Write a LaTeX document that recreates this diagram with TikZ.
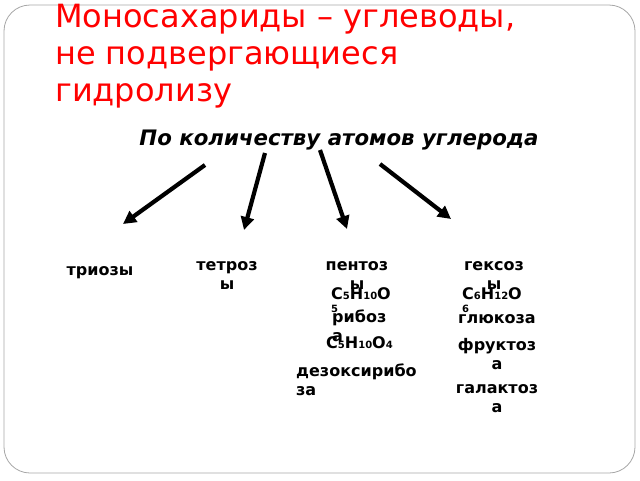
\documentclass[tikz,border=0pt]{standalone}
\usepackage{fontspec}
\setmainfont{DejaVu Sans}
\usetikzlibrary{arrows.meta}
\newcommand{\idx}[1]{\raisebox{-0.5pt}{\fontsize{10}{10}\selectfont #1}}
\begin{document}
\begin{tikzpicture}[x=1pt,y=-1pt,>={Triangle[length=13pt,width=13pt]},
  lbl/.style={inner sep=0pt,anchor=base,align=center,font=\bfseries\fontsize{16}{19}\selectfont},
  lbll/.style={inner sep=0pt,anchor=base west,align=left,font=\bfseries\fontsize{16}{19}\selectfont},
  frm/.style={inner sep=0pt,anchor=base west,align=left,font=\bfseries\fontsize{16}{13}\selectfont},
  arr/.style={->,line width=4.2pt}]
\useasboundingbox (0,0) rectangle (640,480);
\draw[gray!70,line width=0.8pt,rounded corners=26pt] (4,5) rectangle (635,473);
\node[inner sep=0pt,anchor=base west,align=left,red,font=\fontsize{32}{37}\selectfont] (title) at (55,101) {Моносахариды -- углеводы,\\не подвергающиеся\\гидролизу};
\node[inner sep=0pt,anchor=base,font=\bfseries\itshape\fontsize{21.3}{24}\selectfont] (sub) at (339,145) {По количеству атомов углерода};
\coordinate (s1) at (205,165);
\coordinate (e1) at (123,224);
\coordinate (s2) at (265,153);
\coordinate (e2) at (244,230);
\coordinate (s3) at (320,150);
\coordinate (e3) at (347,229);
\coordinate (s4) at (380,164);
\coordinate (e4) at (451,219);
\draw[arr] (s1) -- (e1);
\draw[arr] (s2) -- (e2);
\draw[arr] (s3) -- (e3);
\draw[arr] (s4) -- (e4);
\node[lbl] (trioz) at (100,275) {триозы};
\node[lbl] (tetroz) at (227,289) {тетроз\\ы};
\node[lbl] (pentoz) at (357,289) {пентоз\\ы};
\node[lbl] (geksoz) at (494,289) {гексоз\\ы};
\node[frm] (pentform) at (331,312) {C\idx{5}H\idx{10}O\\\idx{5}};
\node[lbll] (riboz) at (332,341) {рибоз\\а};
\node[frm] (dezform) at (326,348) {C\idx{5}H\idx{10}O\idx{4}};
\node[lbll] (dezoks) at (296,395) {дезоксирибо\\за};
\node[frm] (geksform) at (462,312) {C\idx{6}H\idx{12}O\\\idx{6}};
\node[lbl] (glyuk) at (497,323) {глюкоза};
\node[lbl] (frukt) at (497,369) {фруктоз\\а};
\node[lbl] (galakt) at (497,412) {галактоз\\а};
\end{tikzpicture}
\end{document}
